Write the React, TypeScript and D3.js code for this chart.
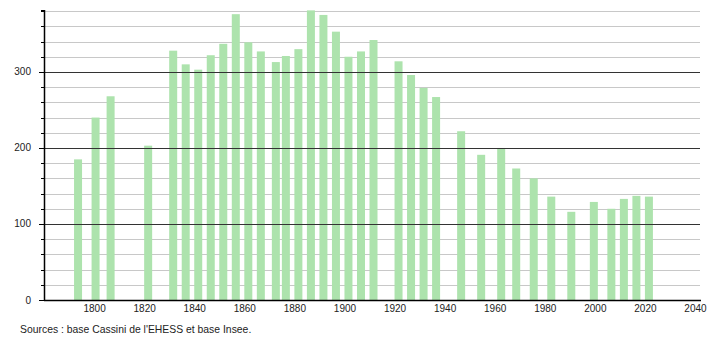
import React from "react";
import * as d3 from "d3";

const years = [1793, 1800, 1806, 1821, 1831, 1836, 1841, 1846, 1851, 1856, 1861, 1866, 1872, 1876, 1881, 1886, 1891, 1896, 1901, 1906, 1911, 1921, 1926, 1931, 1936, 1946, 1954, 1962, 1968, 1975, 1982, 1990, 1999, 2006, 2011, 2016, 2021];
const population = [185, 240, 268, 203, 328, 310, 303, 322, 337, 376, 339, 327, 313, 321, 330, 381, 375, 353, 320, 327, 342, 314, 296, 279, 267, 222, 191, 200, 173, 160, 136, 116, 129, 120, 133, 137, 136];
const xTickYears = [1800, 1820, 1840, 1860, 1880, 1900, 1920, 1940, 1960, 1980, 2000, 2020, 2040];
const yMajorTicks = [0, 100, 200, 300];
const yMinorTicks = d3.range(20, 381, 20);
const sourceText = "Sources : base Cassini de l'EHESS et base Insee.";

const W = 710;
const H = 340;
const left = 44;
const right = 700;
const bottom = 300;
const top = 10;

export default function App() {
  const x = d3.scaleLinear().domain([1779.4, 2041.4]).range([left, right]);
  const y = d3.scaleLinear().domain([0, 381.5]).range([bottom, top]);
  const barW = 8;
  const font = "'Liberation Sans', Arial, sans-serif";
  return (
    <svg width={W} height={H} style={{ position: "absolute", left: 0, top: 0, background: "#fff" }}>
      {yMinorTicks.filter(v => v % 100 !== 0).map(v => (
        <g key={"mi" + v}>
          <line x1={left} x2={right} y1={Math.round(y(v)) + 0.5} y2={Math.round(y(v)) + 0.5} stroke="#c8c8c8" strokeWidth={1} />
          <line x1={left - 3} x2={left} y1={Math.round(y(v)) + 0.5} y2={Math.round(y(v)) + 0.5} stroke="#000" strokeWidth={1} />
        </g>
      ))}
      {years.map((yr, i) => (
        <rect key={yr} x={x(yr) - barW / 2} y={y(population[i])} width={barW} height={bottom - y(population[i])} fill="#ade3ad" />
      ))}
      {yMajorTicks.filter(v => v > 0).map(v => (
        <line key={"ma" + v} x1={left} x2={right} y1={Math.round(y(v)) + 0.5} y2={Math.round(y(v)) + 0.5} stroke="#333" strokeWidth={1} />
      ))}
      {yMajorTicks.map(v => (
        <g key={"yl" + v}>
          <line x1={left - 5} x2={left} y1={Math.round(y(v)) + 0.5} y2={Math.round(y(v)) + 0.5} stroke="#000" />
          <text x={31} y={y(v) + 3.5} textAnchor="end" fontFamily={font} fontSize={10} fill="#222">{v}</text>
        </g>
      ))}
      <line x1={left - 3} x2={left} y1={top + 0.5} y2={top + 0.5} stroke="#000" />
      <line x1={left + 0.5} x2={left + 0.5} y1={top} y2={bottom} stroke="#000" strokeWidth={1.5} />
      <line x1={left} x2={right + 1} y1={bottom + 0.5} y2={bottom + 0.5} stroke="#000" strokeWidth={1.5} />
      {xTickYears.map(t => (
        <text key={t} x={x(t) - 1} y={311.5} textAnchor="middle" fontFamily={font} fontSize={10} fill="#222">{t}</text>
      ))}
      <text x={20} y={333} fontFamily={font} fontSize={10.4} fill="#222">{sourceText}</text>
    </svg>
  );
}
